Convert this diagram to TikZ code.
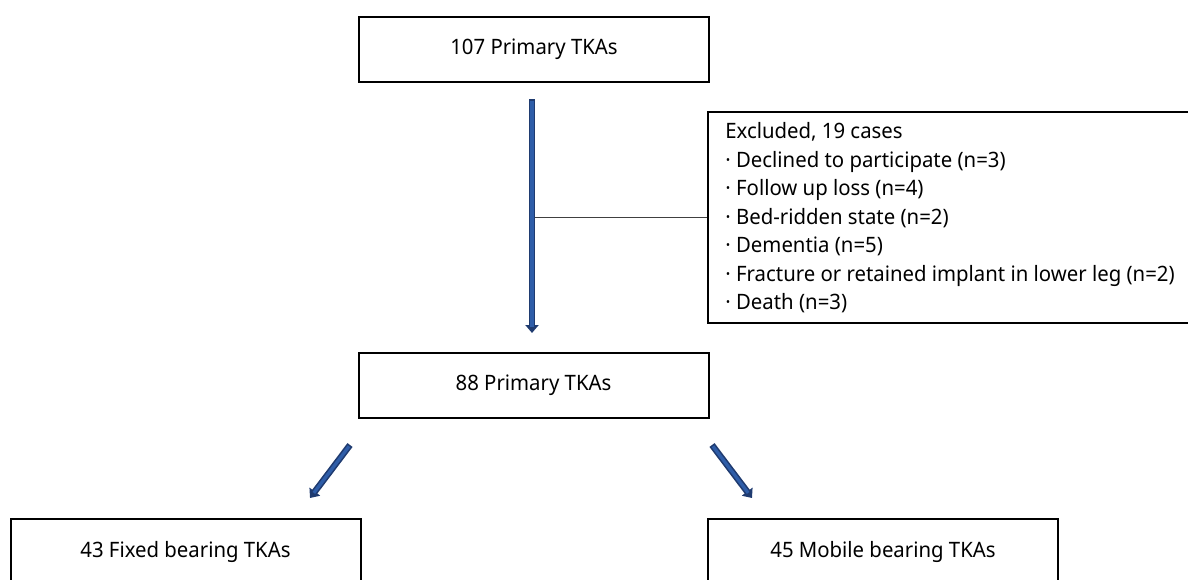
\documentclass[tikz,border=0pt]{standalone}
\usepackage{fontspec}
\setmainfont[FakeStretch=0.96]{Noto Sans}
\usetikzlibrary{arrows.meta}
\definecolor{arrowdark}{HTML}{1F3B70}
\definecolor{arrowfill}{HTML}{2E5DA8}
\definecolor{linegray}{HTML}{404040}
\newcommand{\bluearrow}[2]{%
  \draw[line width=3.2pt, arrowdark, -{Triangle[length=4pt,width=6.5pt]}] (#1) -- (#2);
  \draw[line width=1.6pt, arrowfill, shorten >=3.2pt, shorten <=0.8pt] (#1) -- (#2);}
\begin{document}
\begin{tikzpicture}[x=0.5pt,y=-0.5pt,
  txt/.style={font=\fontsize{10.6}{12}\selectfont},
  box/.style={txt,draw=black,line width=1pt,fill=white,minimum width=175pt,minimum height=32.5pt,inner sep=0pt},
  exclbox/.style={draw=black,line width=1pt,minimum width=243.5pt,minimum height=105.5pt,inner sep=0pt},
  excltext/.style={txt,anchor=base west,inner sep=0pt},
  thinline/.style={draw=linegray,line width=0.6pt}]
\useasboundingbox (0,0) rectangle (1188,579);

\node[box] (top) at (534,49.5) {107 Primary TKAs};
\node[box] (mid) at (533.5,385.5) {88 Primary TKAs};
\node[box] (fixed) at (185.5,551.5) {43 Fixed bearing TKAs};
\node[box] (mobile) at (883,551.5) {45 Mobile bearing TKAs};
\node[exclbox] (excl) at (951.5,217.5) {};

\node[excltext] (e0) at (725,138.5) {Excluded, 19 cases};
\node[excltext] (e1) at (725,167) {· Declined to participate (n=3)};
\node[excltext] (e2) at (725,195.5) {· Follow up loss (n=4)};
\node[excltext] (e3) at (725,224) {· Bed-ridden state (n=2)};
\node[excltext] (e4) at (725,252.5) {· Dementia (n=5)};
\node[excltext] (e5) at (725,281) {· Fracture or retained implant in lower leg (n=2)};
\node[excltext] (e6) at (725,309.5) {· Death (n=3)};

\coordinate (vstart) at (532,99);
\coordinate (vend) at (532,333);
\coordinate (junction) at (535,217.5);
\coordinate (lstart) at (350,445);
\coordinate (lend) at (310,498);
\coordinate (rstart) at (712,445);
\coordinate (rend) at (752,498);

\draw[thinline] (junction) -- (excl.west);
\bluearrow{vstart}{vend}
\bluearrow{lstart}{lend}
\bluearrow{rstart}{rend}
\end{tikzpicture}
\end{document}
